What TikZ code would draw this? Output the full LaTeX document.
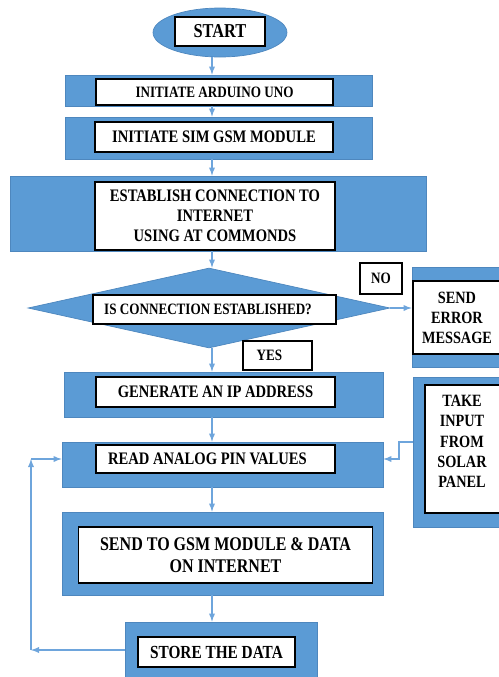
\documentclass[tikz,border=0pt]{standalone}
\usepackage{fontspec}
\setmainfont{Liberation Serif}[FakeStretch=0.83]
\usepackage{tikz}
\usetikzlibrary{calc}
\usetikzlibrary{shapes.geometric}

\definecolor{boxblue}{RGB}{91,155,213}
\definecolor{boxedge}{RGB}{78,135,190}
\definecolor{linkblue}{RGB}{110,165,220}

\tikzset{
    txt/.style 2 args={font=\fontsize{#1}{#2}\selectfont\bfseries},
    bluebox/.style={draw=boxedge, fill=boxblue, inner sep=0pt},
    whitebox/.style={draw=black, line width=0.6pt, fill=white, inner sep=0pt,
        align=center, txt={10}{11.4}},
    link/.style={draw=linkblue, line width=0.6pt, ->, >=latex}
}

\begin{document}
\begin{tikzpicture}[x=0.02cm, y=-0.02cm]
    \useasboundingbox (0,0) rectangle (499,677);
    \coordinate (spine) at (212,0);

    % Start ellipse
    \node[ellipse, draw=boxedge, fill=boxblue, minimum width=2.68cm, minimum height=0.98cm, inner sep=0pt] (start) at (220,32.5) {};
    \node[whitebox, txt={11.2}{13}, minimum width=1.8cm, minimum height=0.58cm] (starttxt) at (220,31.5) {START};

    % The main column of steps
    \node[bluebox, minimum width=6.14cm, minimum height=0.62cm] (arduino) at (218.5,90.5) {};
    \node[whitebox, txt={9}{11}, minimum width=4.74cm, minimum height=0.52cm] (arduinotxt) at (214.5,92) {INITIATE ARDUINO UNO};

    \node[bluebox, minimum width=6.14cm, minimum height=0.84cm] (sim) at (218.5,138) {};
    \node[whitebox, minimum width=4.76cm, minimum height=0.6cm] (simtxt) at (214,137) {INITIATE SIM GSM MODULE};

    \node[bluebox, minimum width=8.32cm, minimum height=1.5cm] (connect) at (218,213.5) {};
    \node[whitebox, minimum width=4.8cm, minimum height=1.36cm] (connecttxt) at (215,216)
        {ESTABLISH CONNECTION TO\\INTERNET\\USING AT COMMONDS};

    \node[diamond, draw=boxedge, fill=boxblue, minimum width=7.24cm, minimum height=1.6cm, inner sep=0pt] (check) at (209,308) {};
    \node[whitebox, txt={9}{11}, minimum width=4.86cm, minimum height=0.58cm] (checktxt) at (214.5,309.5)
        {IS CONNECTION ESTABLISHED?\hspace*{0.26cm}};

    \node[bluebox, minimum width=6.38cm, minimum height=0.9cm] (ip) at (223.5,394.5) {};
    \node[whitebox, minimum width=4.78cm, minimum height=0.6cm] (iptxt) at (215.5,392) {GENERATE AN IP ADDRESS};

    \node[bluebox, minimum width=6.42cm, minimum height=0.9cm] (read) at (222.5,464.5) {};
    \node[whitebox, minimum width=4.78cm, minimum height=0.56cm] (readtxt) at (215.5,459)
        {READ ANALOG PIN VALUES\hspace*{0.32cm}};

    \node[bluebox, minimum width=6.42cm, minimum height=1.66cm] (send) at (222.5,553.5) {};
    \node[whitebox, txt={11}{12.2}, minimum width=5.9cm, minimum height=1.12cm] (sendtxt) at (225.5,555)
        {SEND TO GSM MODULE \& DATA\\ON INTERNET};

    \node[bluebox, minimum width=3.84cm, minimum height=1.16cm] (store) at (221,651) {};
    \node[whitebox, txt={10.5}{12}, minimum width=3.14cm, minimum height=0.6cm] (storetxt) at (216.5,652) {STORE THE DATA};

    % Side boxes
    \node[bluebox, minimum width=1.84cm, minimum height=2.0cm] (error) at (458,317) {};
    \node[whitebox, txt={9.8}{11.4}, minimum width=1.76cm, minimum height=1.46cm] (errortxt) at (457,317.5) {SEND\\ERROR\\MESSAGE};

    \node[bluebox, minimum width=1.84cm, minimum height=3.0cm] (solar) at (459,452) {};
    \node[whitebox, minimum width=1.52cm, minimum height=2.56cm] (solarbox) at (463,449) {};
    \node[txt={9.8}{11.5}, align=center, inner sep=0pt] (solartxt) at (462,441.5) {TAKE\\INPUT\\FROM\\SOLAR\\PANEL};

    % Decision labels
    \node[whitebox, txt={9}{11}, minimum width=0.84cm, minimum height=0.62cm] (no) at (381,278.5) {NO};
    \node[whitebox, txt={9}{11}, minimum width=1.38cm, minimum height=0.58cm] (yes) at (277.5,355.5) {YES\hspace*{0.32cm}};

    % Arrows down the main column
    \foreach \a/\b in {start/arduino, arduino/sim, sim/connect, connect/check, check/ip, ip/read, read/send, send/store}
    {
        \draw[link] (\a.south -| spine) -- (\b.north -| spine);
    }

    % Failed connection
    \draw[link] (check.east) -- (check.east -| error.west);

    % Solar panel input
    \coordinate (bend) at (399,0);
    \draw[link] (solar.west |- 0,442) -- (bend |- 0,442) -- (bend |- readtxt) -- (read.east |- readtxt);

    % Loop back from storing the data
    \coordinate (loopbot) at (31,650);
    \coordinate (looptop) at (31,459);
    \draw[link] (store.west |- loopbot) -- (loopbot);
    \draw[link] (loopbot) -- (looptop);
    \draw[link] (looptop) -- (looptop -| read.west);
\end{tikzpicture}
\end{document}
